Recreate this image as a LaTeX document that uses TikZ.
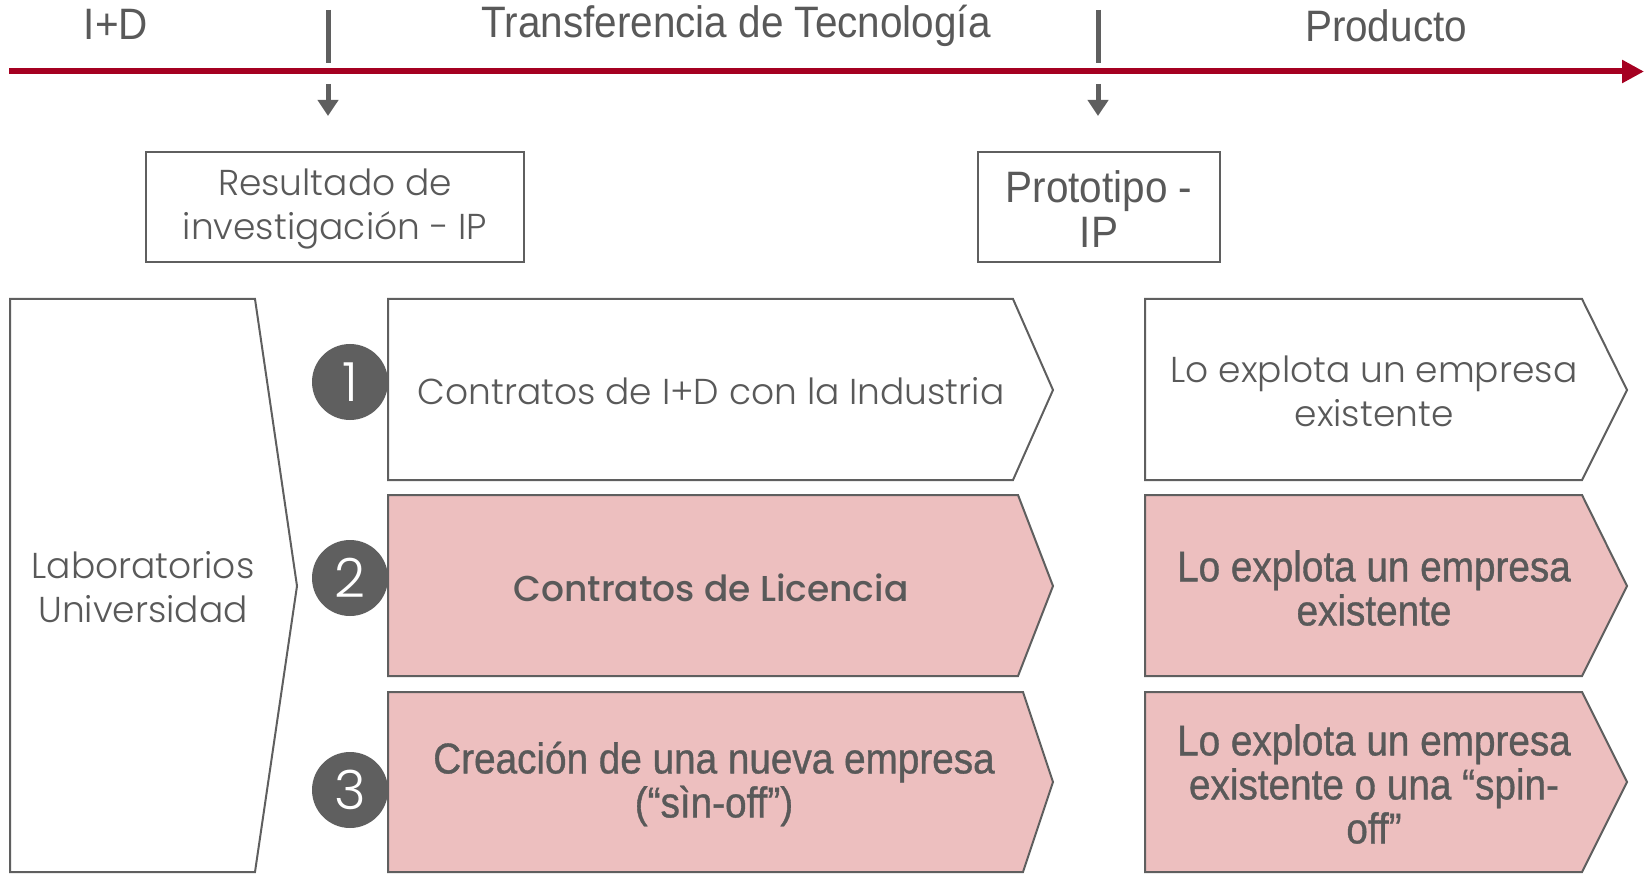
\documentclass[tikz,border=0pt]{standalone}
\usepackage{fontspec}
\setmainfont{Poppins}[UprightFont=* Light, BoldFont=* Medium]
\newfontfamily\narrowfont[FakeStretch=0.92]{Liberation Sans}
\newfontfamily\narrowboldfont[FakeStretch=0.90, FakeBold=0.9]{Liberation Sans}
\usetikzlibrary{arrows.meta}
\definecolor{txtgray}{HTML}{595959}
\definecolor{linegray}{HTML}{5F5F5F}
\definecolor{pinkfill}{HTML}{EDBFBF}
\definecolor{timered}{HTML}{A50021}
\tikzset{
  shapeline/.style={draw=linegray, line width=2pt},
  txt/.style={text=txtgray, align=center, inner sep=0pt},
  gothic/.style={txt, font=\fontsize{36}{44}\selectfont},
  gothicb/.style={txt, font=\fontsize{36}{44}\selectfont\bfseries},
  narrowt/.style={txt, font=\fontsize{44}{45}\selectfont\narrowfont},
  narrowb/.style={txt, font=\fontsize{43}{44}\selectfont\narrowboldfont},
  numcircle/.style={circle, fill=linegray, minimum size=76pt, inner sep=0pt, text=white, font=\fontsize{54}{54}\selectfont},
  tick/.style={draw=linegray, line width=5pt},
  downarrow/.style={draw=linegray, line width=5pt, -{Triangle[length=16pt,width=20pt]}},
}
\begin{document}
\begin{tikzpicture}[x=1pt, y=-1pt]
\useasboundingbox (0,0) rectangle (1646,874);
% timeline
\coordinate (tl0) at (9,71.5);
\coordinate (tl1) at (1644,71.5);
\draw[timered, line width=6pt, -{Triangle[length=22pt,width=22pt]}] (tl0) -- (tl1);
\node[narrowt] (lid) at (116,24) {I+D};
\node[narrowt] (ltt) at (736,26) {Transferencia de Tecnología};
\node[narrowt] (lprod) at (1386,26) {Producto};
% ticks
\coordinate (t1a) at (328,10); \coordinate (t1b) at (328,63);
\coordinate (t2a) at (1098,10); \coordinate (t2b) at (1098,63);
\draw[tick] (t1a) -- (t1b);
\draw[tick] (t2a) -- (t2b);
\coordinate (a1a) at (328,84); \coordinate (a1b) at (328,116);
\coordinate (a2a) at (1098,84); \coordinate (a2b) at (1098,116);
\draw[downarrow] (a1a) -- (a1b);
\draw[downarrow] (a2a) -- (a2b);
% IP boxes
\draw[shapeline, line width=2pt] (146,152) rectangle (524,262);
\node[gothic] (res) at (335,209) {Resultado de\\investigación - IP};
\draw[shapeline, line width=2pt] (978,152) rectangle (1220,262);
\node[narrowt] (proto) at (1099,209) {Prototipo -\\IP};
% Laboratorios
\draw[shapeline, fill=white] (10,299) -- (255,299) -- (297,586) -- (255,872) -- (10,872) -- cycle;
\node[gothic] (lab) at (143,587) {Laboratorios\\Universidad};
% row 1
\draw[shapeline, fill=white] (388,299) -- (1013,299) -- (1053,390) -- (1013,480) -- (388,480) -- cycle;
\node[gothic] (r1l) at (711,391) {Contratos de I+D con la Industria};
\draw[shapeline, fill=white] (1145,299) -- (1582,299) -- (1627,390) -- (1582,480) -- (1145,480) -- cycle;
\node[gothic] (r1r) at (1374,391) {Lo explota un empresa\\existente};
% row 2
\draw[shapeline, fill=pinkfill] (388,495) -- (1018,495) -- (1053,586) -- (1018,676) -- (388,676) -- cycle;
\node[gothicb] (r2l) at (711,588) {Contratos de Licencia};
\draw[shapeline, fill=pinkfill] (1145,495) -- (1582,495) -- (1627,586) -- (1582,676) -- (1145,676) -- cycle;
\node[narrowb] (r2r) at (1374,588) {Lo explota un empresa\\existente};
% row 3
\draw[shapeline, fill=pinkfill] (388,692) -- (1023,692) -- (1053,782) -- (1023,872) -- (388,872) -- cycle;
\node[narrowb] (r3l) at (714,784) {Creación de una nueva empresa\\(“sìn-off”)};
\draw[shapeline, fill=pinkfill] (1145,692) -- (1582,692) -- (1627,782) -- (1582,872) -- (1145,872) -- cycle;
\node[narrowb] (r3r) at (1374,784) {Lo explota un empresa\\existente o una “spin-\\off”};
% numbers
\node[numcircle] (n1) at (350,382) {1};
\node[numcircle] (n2) at (350,578) {2};
\node[numcircle] (n3) at (350,790) {3};
\end{tikzpicture}
\end{document}
